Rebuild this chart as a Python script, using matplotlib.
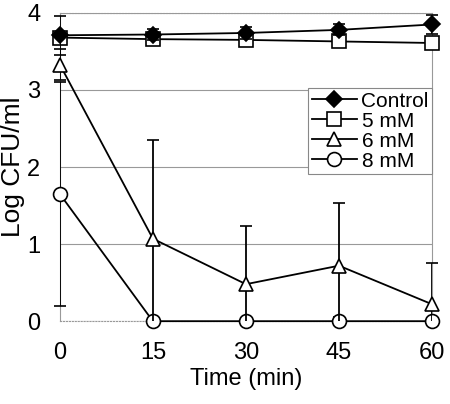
import matplotlib
matplotlib.use("Agg")
import matplotlib.pyplot as plt
from matplotlib.lines import Line2D

plt.rcParams['font.family'] = ['Liberation Sans', 'DejaVu Sans']

time = [0, 15, 30, 45, 60]
control = [3.71, 3.72, 3.74, 3.78, 3.85]
control_err = [0.25, 0.07, 0.08, 0.07, 0.12]
mm5 = [3.68, 3.66, 3.65, 3.63, 3.61]
mm5_err = [0.05, 0.04, 0.04, 0.04, 0.04]
mm6 = [3.33, 1.07, 0.48, 0.72, 0.22]
mm6_err = [0.2, 1.28, 0.76, 0.81, 0.53]
mm8 = [1.65, 0.0, 0.0, 0.0, 0.0]
mm8_err = [1.45, 0.0, 0.0, 0.05, 0.0]

fig = plt.figure(figsize=(4.5, 4.04), dpi=100)
ax = fig.add_axes([0.133, 0.205, 0.827, 0.763])

ax.set_xlim(0, 60)
ax.set_ylim(0, 4)
ax.yaxis.grid(True, color='#999999', lw=0.8)
ax.set_axisbelow(True)
for s in ax.spines.values():
    s.set_color('#999999')
    s.set_linewidth(0.8)
ax.spines['top'].set_linestyle(':')
ax.spines['bottom'].set_linestyle(':')

series = [
    (mm8, mm8_err, 'o', 'white', 10, '8 mM'),
    (mm6, mm6_err, '^', 'white', 10, '6 mM'),
    (mm5, mm5_err, 's', 'white', 10, '5 mM'),
    (control, control_err, 'D', 'black', 8, 'Control'),
]
handles = []
for i, (y, e, m, fc, ms, lab) in enumerate(series):
    eb = ax.errorbar(time, y, yerr=e, marker=m, mfc=fc, mec='black', mew=1.2, ms=ms,
                     color='black', lw=1.3, elinewidth=1.3, capsize=4.5, capthick=1.3,
                     zorder=3 + i)
    # markers may overhang the frame, error bars stay clipped at 0
    eb.lines[0].set_clip_on(False)
    for cap in eb.lines[1]:
        cap.set_clip_on(False)
    handles.append(Line2D([], [], color='black', lw=1.3, marker=m, mfc=fc, mec='black',
                          mew=1.2, ms=ms, label=lab))
    # hide caps that would fall below 0
    for cap in eb.lines[1]:
        yd = cap.get_ydata()
        cap.set_ydata([v if v >= -0.06 else float('nan') for v in yd])

ax.set_xticks(time)
ax.set_yticks([0, 1, 2, 3, 4])
ax.tick_params(length=0, labelsize=17)
ax.tick_params(axis='x', pad=15)
ax.tick_params(axis='y', pad=14)
ax.set_xlabel('Time (min)', fontsize=17, labelpad=3)
ax.set_ylabel('Log CFU/ml', fontsize=19, labelpad=2)

leg = ax.legend(handles[::-1], [h.get_label() for h in handles[::-1]], loc='upper right',
                bbox_to_anchor=(1.0, 0.755), fontsize=15,
                frameon=True, fancybox=False, edgecolor='#888888', framealpha=1,
                handlelength=2.2, handletextpad=0.2, borderpad=0.15, labelspacing=0.05,
                borderaxespad=0)
leg.get_frame().set_linewidth(0.8)
leg.set_zorder(10)

fig.savefig('out.png', dpi=100)
